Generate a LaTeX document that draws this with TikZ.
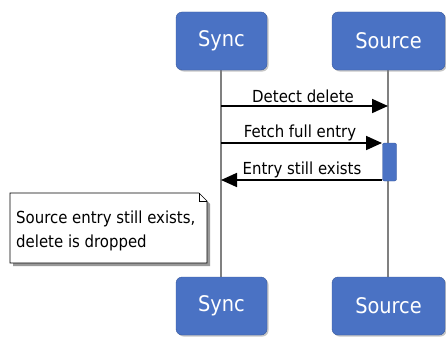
\documentclass[tikz,border=0pt]{standalone}
\usepackage{fontspec}
\setmainfont{DejaVu Sans Condensed}
\usetikzlibrary{arrows.meta,shadows}
\definecolor{boxblue}{HTML}{4A72C4}
\definecolor{lifegray}{HTML}{808080}
\tikzset{
  actor/.style={draw=boxblue!80!black, fill=boxblue, rounded corners=6pt, text=white,
    font=\fontsize{21.5}{24}\selectfont, inner sep=0pt, drop shadow={shadow xshift=1.5pt, shadow yshift=-1.5pt, opacity=0.45}},
  life/.style={draw=lifegray, line width=1.2pt},
  msg/.style={draw=black, line width=1.8pt, -{Triangle[length=16pt,width=14pt]}},
  lbl/.style={font=\fontsize{16.6}{19}\selectfont, inner sep=0pt},
  act/.style={fill=boxblue, draw=boxblue!80!black, rounded corners=2pt},
  notebox/.style={fill=white, draw=black, line width=0.7pt}
}
\begin{document}
\begin{tikzpicture}[x=1pt,y=-1pt]
\useasboundingbox (0,0) rectangle (446,337);
% lifelines
\coordinate (synctopb) at (221,70);
\coordinate (syncbott) at (221,277);
\coordinate (srctopb) at (388,70);
\coordinate (srcbott) at (388,277);
\draw[life] (synctopb) -- (syncbott);
\draw[life] (srctopb) -- (srcbott);
% actors
\node[actor, minimum width=91pt, minimum height=58pt] (synctop) at (221.5,41) {Sync};
\node[actor, minimum width=113pt, minimum height=58pt] (srctop) at (388.5,41) {Source};
\node[actor, minimum width=91pt, minimum height=58pt] (syncbot) at (221.5,306) {Sync};
\node[actor, minimum width=113pt, minimum height=58pt] (srcbot) at (388.5,306) {Source};
% activation
\node[act, minimum width=14pt, minimum height=38pt, inner sep=0pt] (actv) at (389.5,162) {};
% messages
\coordinate (m1s) at (221,106);
\coordinate (m1e) at (388,106);
\draw[msg] (m1s) -- (m1e);
\node[lbl] (l1) at (303,96) {Detect delete};
\coordinate (m2s) at (221,143);
\coordinate (m2e) at (382,143);
\draw[msg] (m2s) -- (m2e);
\node[lbl] (l2) at (300,133) {Fetch full entry};
\coordinate (m3s) at (382,180);
\coordinate (m3e) at (221,180);
\draw[msg] (m3s) -- (m3e);
\node[lbl] (l3) at (302,170) {Entry still exists};
% note
\fill[black!40] (13,196) -- (202,196) -- (210,204) -- (210,266) -- (13,266) -- cycle;
\draw[notebox] (10,193) -- (199,193) -- (207,201) -- (207,263) -- (10,263) -- cycle;
\draw[line width=0.5pt] (199,193) -- (199,201) -- (207,201);
\node[lbl, align=left, anchor=west, font=\fontsize{16.6}{24}\selectfont] (note) at (16,231) {Source entry still exists,\\delete is dropped};
\end{tikzpicture}
\end{document}
